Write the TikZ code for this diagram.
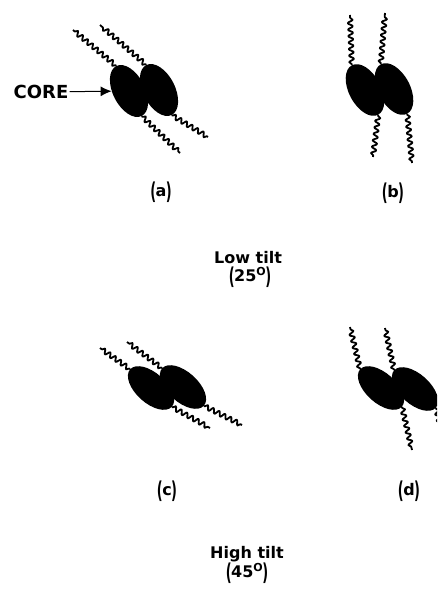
\documentclass[tikz,border=0pt]{standalone}
\usepackage{fontspec}
\setmainfont{DejaVu Sans}
\usetikzlibrary{shapes.geometric,decorations.pathmorphing,arrows.meta}
% tall, tight parentheses and the raised "O" degree mark
\newcommand{\tparen}[1]{\raisebox{-2.5pt}{\scalebox{0.8}[1.45]{(}}\kern-0.5pt#1\kern-0.5pt\raisebox{-2.5pt}{\scalebox{0.8}[1.45]{)}}}
\newcommand{\degO}{\raisebox{6pt}{\fontsize{11}{11}\selectfont O}}

\begin{document}
\begin{tikzpicture}[x=1pt,y=-1pt,
  core/.style={ellipse, fill=black, inner sep=0pt, minimum width=56pt, minimum height=32pt},
  chain/.style={line width=1.8pt, line join=round, decorate,
    decoration={snake, segment length=6.5pt, amplitude=2.4pt, pre length=1pt, post length=1pt}},
  lbl/.style={font=\fontsize{16}{18}\selectfont\bfseries, inner sep=0pt},
  tiltcaption/.style={font=\fontsize{16}{17}\selectfont\bfseries, inner sep=0pt}]
\useasboundingbox (0,0) rectangle (437,591);
\clip (0,0) rectangle (437,591);

% (a) low tilt, chains running across
\node[core, rotate=-63] (a1) at (129,91) {};
\node[core, rotate=-63] (a2) at (159,90) {};
\coordinate (a1t) at (73,30);
\coordinate (a2t) at (100,25);
\coordinate (a1b) at (180,153);
\coordinate (a2b) at (208,137);
\draw[chain] (a1.west) -- (a1t);
\draw[chain] (a2.west) -- (a2t);
\draw[chain] (a1.east) -- (a1b);
\draw[chain] (a2.east) -- (a2b);
\node[font=\fontsize{18}{20}\selectfont\bfseries, inner sep=1pt] (core) at (41,92) {CORE};
\draw[line width=1pt, -{Latex[length=11pt,width=10pt]}] (core) -- (a1);
\node[lbl] (la) at (161,192) {\tparen{a}};

% (b) low tilt, chains upright
\node[core, rotate=-62] (b1) at (365,90) {};
\node[core, rotate=-62] (b2) at (394,89) {};
\coordinate (b1t) at (350,15);
\coordinate (b2t) at (385,13);
\coordinate (b1b) at (373,157);
\coordinate (b2b) at (412,163);
\draw[chain] (b1.west) -- (b1t);
\draw[chain] (b2.west) -- (b2t);
\draw[chain] (b1.east) -- (b1b);
\draw[chain] (b2.east) -- (b2b);
\node[lbl] (lb) at (393,193) {\tparen{b}};

\node[tiltcaption] (low) at (248,258) {Low tilt};
\node[tiltcaption] (lowdeg) at (250,277) {\tparen{25\degO}};

% (c) high tilt, chains running across
\node[core, rotate=-42, minimum height=30pt] (c1) at (151,388) {};
\node[core, rotate=-42, minimum height=30pt] (c2) at (183,387) {};
\coordinate (c1t) at (100,348);
\coordinate (c2t) at (127,342);
\coordinate (c1b) at (210,428);
\coordinate (c2b) at (242,425);
\draw[chain] (c1.west) -- (c1t);
\draw[chain] (c2.west) -- (c2t);
\draw[chain] (c1.east) -- (c1b);
\draw[chain] (c2.east) -- (c2b);
\node[lbl] (lc) at (167,491) {\tparen{c}};

% (d) high tilt, chains upright
\node[core, rotate=-42, minimum height=30pt] (d1) at (381,388) {};
\node[core, rotate=-42, minimum height=30pt] (d2) at (415,389) {};
\coordinate (d1t) at (350,327);
\coordinate (d2t) at (385,328);
\coordinate (d1b) at (412,450);
\coordinate (d2b) at (445,445);
\draw[chain] (d1.west) -- (d1t);
\draw[chain] (d2.west) -- (d2t);
\draw[chain] (d1.east) -- (d1b);
\draw[chain] (d2.east) -- (d2b);
\node[lbl] (ld) at (409,491) {\tparen{d}};

\node[tiltcaption] (high) at (247,554) {High tilt};
\node[tiltcaption] (highdeg) at (247,573) {\tparen{45\degO}};
\end{tikzpicture}
\end{document}
